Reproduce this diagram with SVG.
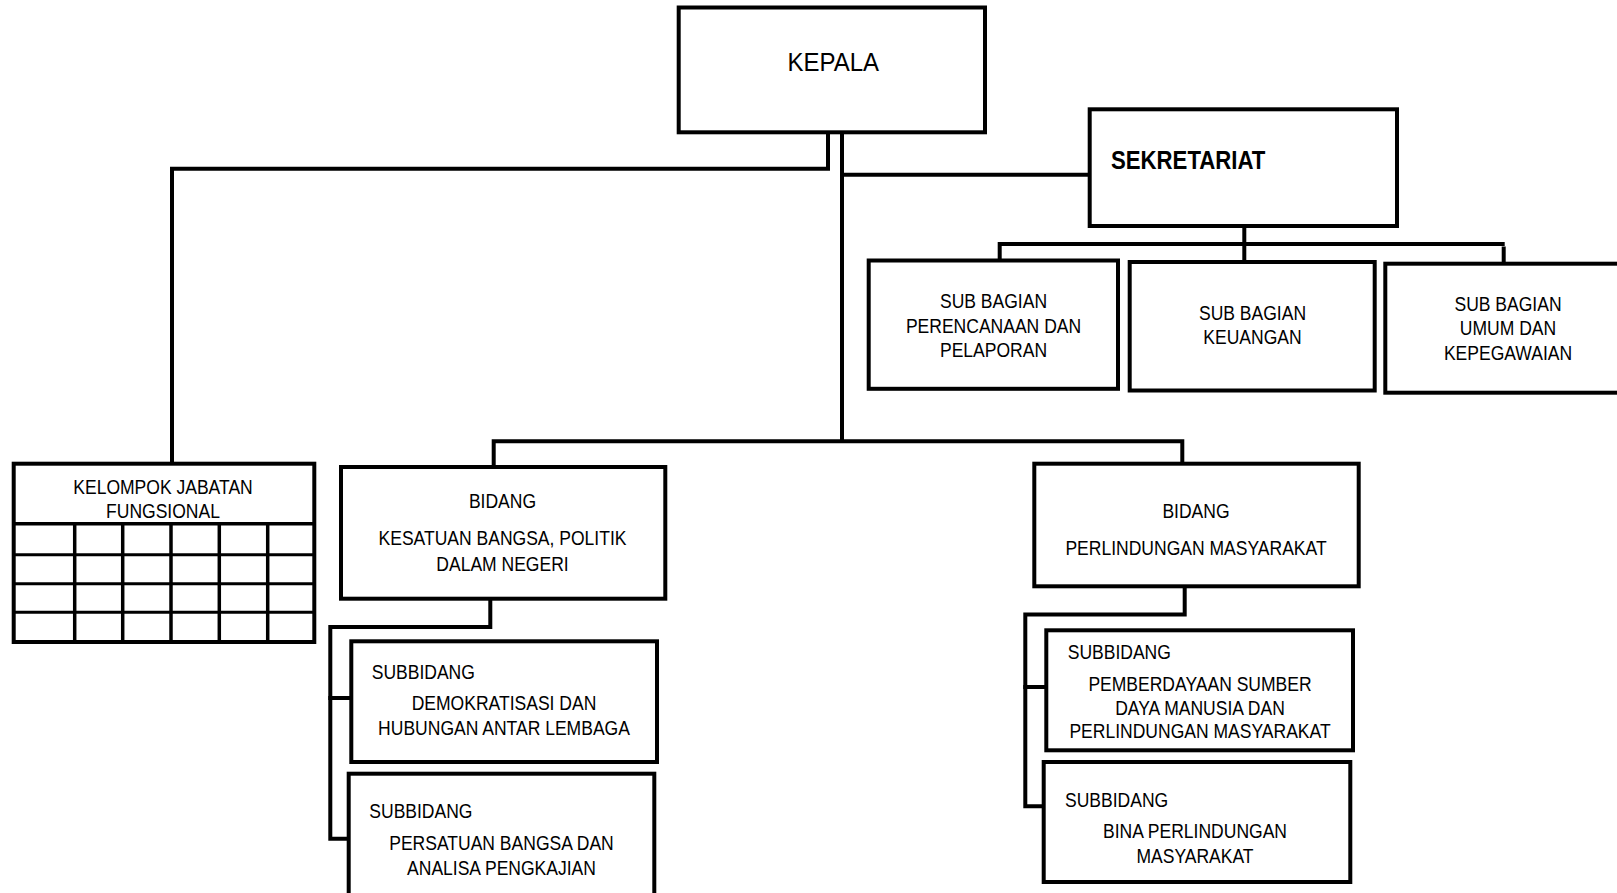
<svg xmlns="http://www.w3.org/2000/svg" width="1617" height="893" viewBox="0 0 1617 893">
<style>
.box{fill:#fff;stroke:#000;stroke-width:4}
.ln{fill:none;stroke:#000;stroke-width:4;stroke-linejoin:miter;stroke-linecap:square}
.grid{fill:none;stroke:#000;stroke-width:3.5}
.gridh{fill:none;stroke:#000;stroke-width:3}
text{font-family:"Liberation Sans",Arial,sans-serif;font-size:20.5px;fill:#000}
.c{text-anchor:middle}
.s{text-anchor:start}
.big{font-size:25px}
.bold{font-size:25.5px;font-weight:bold}
</style>
<rect width="1617" height="893" fill="#fff"/>
<g id="connectors">
<polyline class="ln" points="828,134 828,168.7 172,168.7 172,462"/>
<line class="ln" x1="842" y1="134" x2="842" y2="441"/>
<line class="ln" x1="842" y1="174.7" x2="1088" y2="174.7"/>
<polyline class="ln" points="493.7,465 493.7,441.3 1182.3,441.3 1182.3,462"/>
<line class="ln" x1="1244.3" y1="228" x2="1244.3" y2="260"/>
<polyline class="ln" points="999.7,258.5 999.7,244 1502.7,244"/>
<line class="ln" x1="1503.7" y1="248.5" x2="1503.7" y2="262"/>
<polyline class="ln" points="490.3,600 490.3,627 330.3,627 330.3,838.7 347,838.7"/>
<line class="ln" x1="330.3" y1="698" x2="349.5" y2="698"/>
<polyline class="ln" points="1184.7,588 1184.7,614.5 1025.3,614.5 1025.3,806.3 1042,806.3"/>
<line class="ln" x1="1025.3" y1="687" x2="1044.5" y2="687"/>
</g>
<g id="kepala">
<rect class="box" x="678.7" y="7.5" width="306.3" height="124.8"/>
<text class="c big" transform="translate(833.3,71) scale(0.96,1)">KEPALA</text>
</g>
<g id="sekretariat">
<rect class="box" x="1089.7" y="109.3" width="307.3" height="116.7"/>
<text class="s bold" transform="translate(1111,169.3) scale(0.87,1)">SEKRETARIAT</text>
</g>
<g id="sub-perencanaan">
<rect class="box" x="868.7" y="260.5" width="249.3" height="128.3"/>
<text class="c" transform="translate(993.5,308.3) scale(0.855,1)">SUB BAGIAN</text>
<text class="c" transform="translate(993.5,332.5) scale(0.855,1)">PERENCANAAN DAN</text>
<text class="c" transform="translate(993.5,356.7) scale(0.855,1)">PELAPORAN</text>
</g>
<g id="sub-keuangan">
<rect class="box" x="1129.7" y="262" width="245" height="128.5"/>
<text class="c" transform="translate(1252.5,320) scale(0.855,1)">SUB BAGIAN</text>
<text class="c" transform="translate(1252.5,344) scale(0.855,1)">KEUANGAN</text>
</g>
<g id="sub-umum">
<rect class="box" x="1385.3" y="263.7" width="260" height="129"/>
<text class="c" transform="translate(1508,310.7) scale(0.855,1)">SUB BAGIAN</text>
<text class="c" transform="translate(1508,335.3) scale(0.855,1)">UMUM DAN</text>
<text class="c" transform="translate(1508,360) scale(0.855,1)">KEPEGAWAIAN</text>
</g>
<g id="kelompok">
<rect class="box" x="13.7" y="463.7" width="300.6" height="178.3"/>
<line class="grid" x1="13.7" y1="523.7" x2="314.3" y2="523.7"/>
<line class="gridh" x1="13.7" y1="554.7" x2="314.3" y2="554.7"/>
<line class="gridh" x1="13.7" y1="583.7" x2="314.3" y2="583.7"/>
<line class="gridh" x1="13.7" y1="612.3" x2="314.3" y2="612.3"/>
<line class="grid" x1="74.7" y1="523.7" x2="74.7" y2="642"/>
<line class="grid" x1="122.7" y1="523.7" x2="122.7" y2="642"/>
<line class="grid" x1="171" y1="523.7" x2="171" y2="642"/>
<line class="grid" x1="219.3" y1="523.7" x2="219.3" y2="642"/>
<line class="grid" x1="267.7" y1="523.7" x2="267.7" y2="642"/>
<text class="c" transform="translate(163,494) scale(0.855,1)">KELOMPOK JABATAN</text>
<text class="c" transform="translate(163,518.3) scale(0.855,1)">FUNGSIONAL</text>
</g>
<g id="bidang-kesatuan">
<rect class="box" x="341" y="467" width="324.3" height="131.7"/>
<text class="c" transform="translate(502.5,507.7) scale(0.855,1)">BIDANG</text>
<text class="c" transform="translate(502.5,545) scale(0.855,1)">KESATUAN BANGSA, POLITIK</text>
<text class="c" transform="translate(502.5,570.7) scale(0.855,1)">DALAM NEGERI</text>
</g>
<g id="subbidang-demokratisasi">
<rect class="box" x="351.3" y="641.3" width="305.7" height="120.7"/>
<text class="s" transform="translate(371.7,679.3) scale(0.855,1)">SUBBIDANG</text>
<text class="c" transform="translate(504,710) scale(0.855,1)">DEMOKRATISASI DAN</text>
<text class="c" transform="translate(504,735) scale(0.855,1)">HUBUNGAN ANTAR LEMBAGA</text>
</g>
<g id="subbidang-persatuan">
<rect class="box" x="348.7" y="773.7" width="305.6" height="140"/>
<text class="s" transform="translate(369.3,818.3) scale(0.855,1)">SUBBIDANG</text>
<text class="c" transform="translate(501.5,850) scale(0.855,1)">PERSATUAN BANGSA DAN</text>
<text class="c" transform="translate(501.5,875) scale(0.855,1)">ANALISA PENGKAJIAN</text>
</g>
<g id="bidang-perlindungan">
<rect class="box" x="1034.3" y="463.7" width="324.4" height="122.6"/>
<text class="c" transform="translate(1196,518.3) scale(0.855,1)">BIDANG</text>
<text class="c" transform="translate(1196,555) scale(0.855,1)">PERLINDUNGAN MASYARAKAT</text>
</g>
<g id="subbidang-pemberdayaan">
<rect class="box" x="1046.3" y="630.3" width="306.7" height="120"/>
<text class="s" transform="translate(1067.7,658.7) scale(0.855,1)">SUBBIDANG</text>
<text class="c" transform="translate(1200,690.7) scale(0.855,1)">PEMBERDAYAAN SUMBER</text>
<text class="c" transform="translate(1200,715) scale(0.855,1)">DAYA MANUSIA DAN</text>
<text class="c" transform="translate(1200,738.3) scale(0.855,1)">PERLINDUNGAN MASYARAKAT</text>
</g>
<g id="subbidang-bina">
<rect class="box" x="1043.7" y="762" width="306.6" height="120"/>
<text class="s" transform="translate(1065,806.7) scale(0.855,1)">SUBBIDANG</text>
<text class="c" transform="translate(1195,838.3) scale(0.855,1)">BINA PERLINDUNGAN</text>
<text class="c" transform="translate(1195,863.3) scale(0.855,1)">MASYARAKAT</text>
</g>
</svg>
